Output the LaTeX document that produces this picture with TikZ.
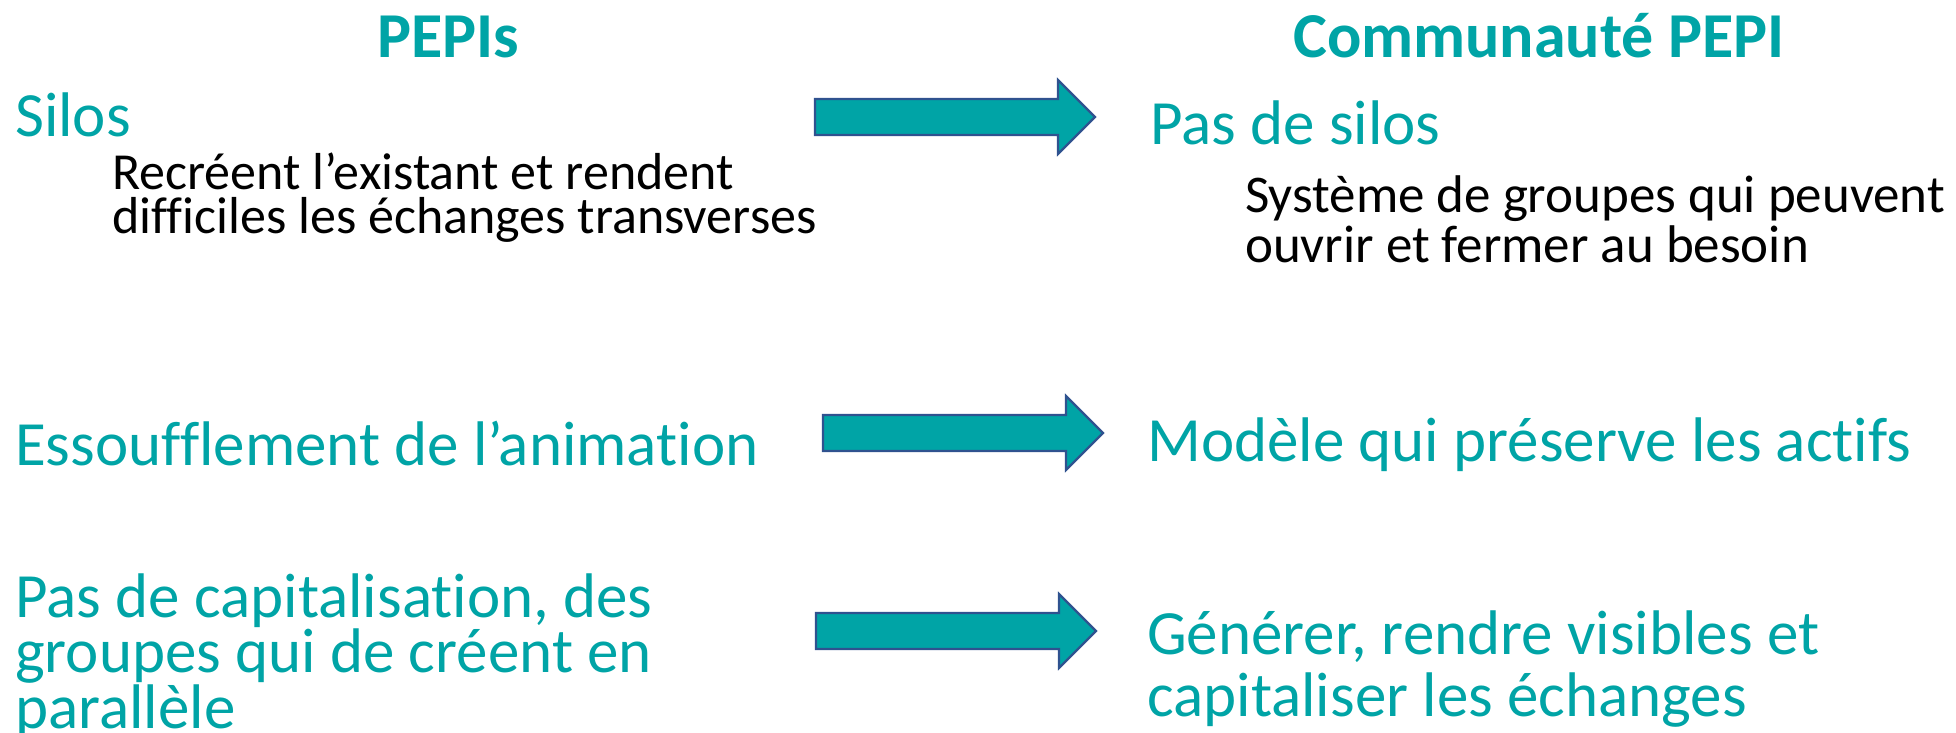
\documentclass[tikz,border=0pt]{standalone}
\usepackage{fontspec}
\setmainfont{Carlito}[Ligatures={NoCommon,NoContextual}]
\usepackage{xcolor}
\definecolor{pepiteal}{RGB}{0,164,166}
\definecolor{pepiblue}{RGB}{47,82,143}

\begin{document}
\begin{tikzpicture}
  [x=1pt,y=-1pt,every node/.style={inner sep=0pt,anchor=base west,align=left},
   titre/.style={anchor=base,text=pepiteal,font=\fontsize{64}{64}\selectfont\bfseries},
   gros/.style={text=pepiteal,font=\fontsize{63}{53}\selectfont},
   grosd/.style={text=pepiteal,font=\fontsize{63}{62}\selectfont},
   petit/.style={text=black,font=\fontsize{52}{44}\selectfont},
   petitd/.style={text=black,font=\fontsize{53}{50}\selectfont},
   fleche/.style={fill=pepiteal,draw=pepiblue,line width=2.2pt,line join=miter}]
  \useasboundingbox (0,0) rectangle (1956,733);

  % titres des colonnes
  \node[titre] (pepis) at (448,58) {PEPIs};
  \node[titre] (commu) at (1539,58) {Communauté PEPI};

  % colonne de gauche (base = derniere ligne)
  \node[gros] (silos) at (15,137) {Silos};
  \node[petit] (recree) at (112,233) {Recréent l’existant et rendent\\difficiles les échanges transverses};
  \node[gros] (essouf) at (15,465) {Essoufflement de l’animation};
  \node[gros] (capi) at (15,728) {Pas de capitalisation, des\\groupes qui de créent en\\parallèle};

  % colonne de droite
  \node[grosd] (passilos) at (1150,144) {Pas de silos};
  \node[petitd] (systeme) at (1245,262) {Système de groupes qui peuvent\\ouvrir et fermer au besoin};
  \node[grosd] (modele) at (1147,461) {Modèle qui préserve les actifs};
  \node[grosd] (generer) at (1147,716) {Générer, rendre visibles et\\capitaliser les échanges};

  \foreach \xa/\ym in {815/117,823/433,816/631}
    \draw[fleche] (\xa,{\ym-18}) -- ({\xa+243},{\ym-18}) -- ({\xa+243},{\ym-37})
      -- ({\xa+280},\ym) -- ({\xa+243},{\ym+37}) -- ({\xa+243},{\ym+18})
      -- (\xa,{\ym+18}) -- cycle;

\end{tikzpicture}
\end{document}
